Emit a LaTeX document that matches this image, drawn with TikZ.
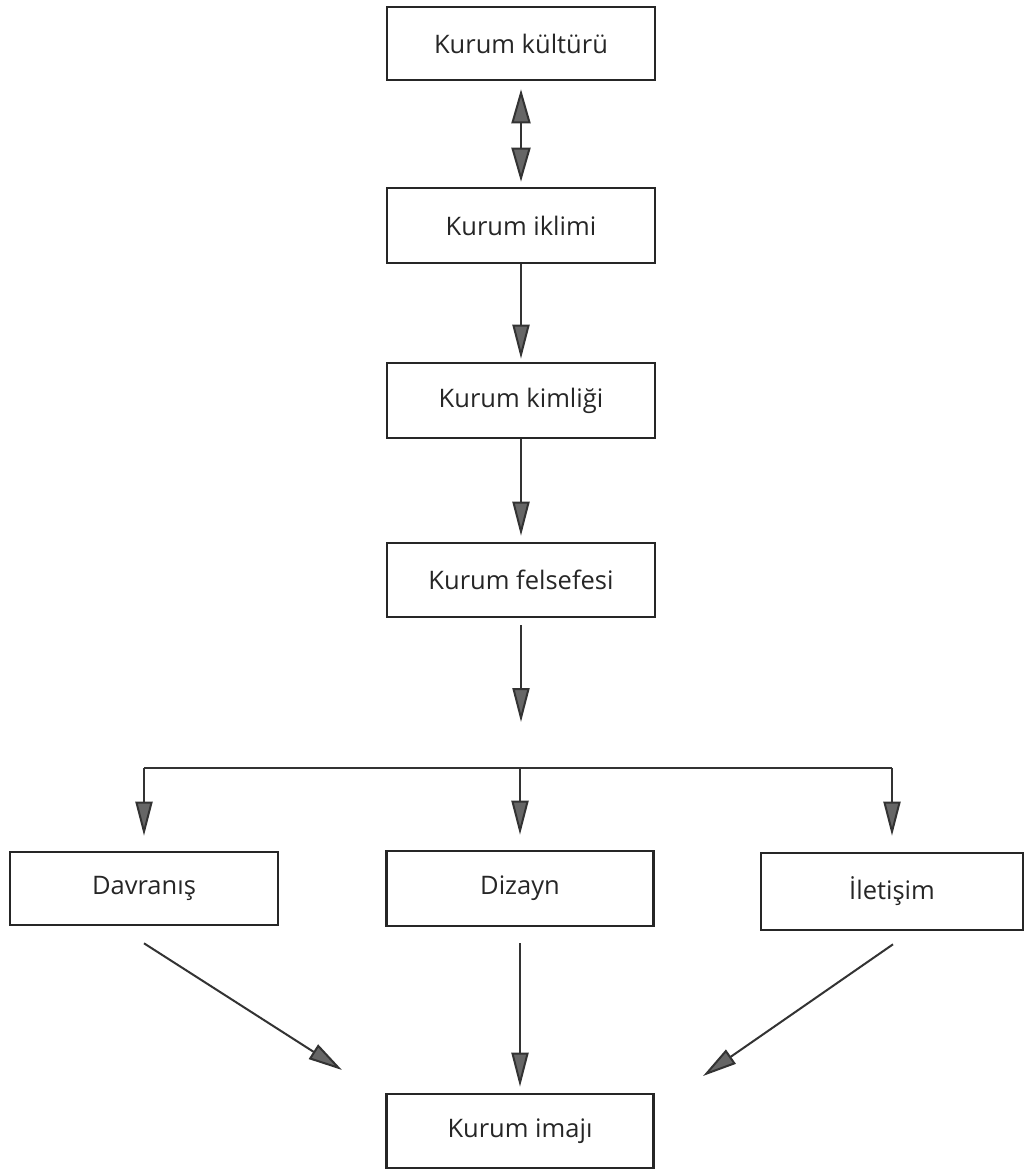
\documentclass[tikz,border=0pt]{standalone}
\usepackage{fontspec}
\setmainfont{Open Sans}
\usetikzlibrary{arrows.meta,calc}
\begin{document}
\begin{tikzpicture}[x=1pt,y=-1pt,
  box/.style={draw=black!85,line width=2.6pt,rectangle,inner sep=0pt,
    font=\fontsize{25.5}{30}\selectfont,text=black!85},
  arr/.style={draw=black!80,line width=2pt,
    -{Triangle[length=34pt,width=17pt,fill=black!60]}},
  darr/.style={draw=black!80,line width=2pt,
    {Triangle[length=34pt,width=19pt,fill=black!60]}-{Triangle[length=34pt,width=19pt,fill=black!60]}},
  ln/.style={draw=black!80,line width=2pt}]
\useasboundingbox (0,0) rectangle (1027,1172);
\fill[white] (0,0) rectangle (1027,1172);
\node[box,minimum width=268pt,minimum height=73pt] (kultur) at (521,43.5) {Kurum kültürü};
\node[box,minimum width=268pt,minimum height=75pt] (iklim) at (521,225.5) {Kurum iklimi};
\node[box,minimum width=268pt,minimum height=75pt] (kimlik) at (521,400.5) {Kurum kimliği};
\node[box,minimum width=268pt,minimum height=74pt] (felsefe) at (521,580) {Kurum felsefesi};
\node[box,minimum width=268pt,minimum height=73pt] (davranis) at (144,888.5) {Davranış};
\node[box,minimum width=267pt,minimum height=75pt] (dizayn) at (520,888.5) {Dizayn};
\node[box,minimum width=262pt,minimum height=77pt] (iletisim) at (892,891.5) {İletişim};
\node[box,minimum width=267pt,minimum height=74pt] (imaj) at (520,1131) {Kurum imajı};
\coordinate (fend) at (521,722);
\coordinate (bl) at (144,768);
\coordinate (bm) at (520,768);
\coordinate (br) at (892,768);
\coordinate (t1) at (342,1070);
\coordinate (t3) at (703,1076);
\draw[darr,shorten <=8pt,shorten >=5pt] (kultur.south) -- (iklim.north);
\draw[arr,shorten >=3pt] (iklim.south) -- (kimlik.north);
\draw[arr,shorten >=6pt] (kimlik.south) -- (felsefe.north);
\draw[arr,shorten <=7pt] (felsefe.south) -- (fend);
\draw[ln] (bl) -- (br);
\draw[arr,shorten >=15pt] (bl) -- (davranis.north);
\draw[arr,shorten >=15pt] (bm) -- (dizayn.north);
\draw[arr,shorten >=16pt] (br) -- (iletisim.north);
\draw[arr] ([yshift=-17pt]davranis.south) -- (t1);
\draw[arr,shorten <=16pt,shorten >=6pt] (dizayn.south) -- (imaj.north);
\draw[arr] ([xshift=1pt,yshift=-13pt]iletisim.south) -- (t3);
\end{tikzpicture}
\end{document}
